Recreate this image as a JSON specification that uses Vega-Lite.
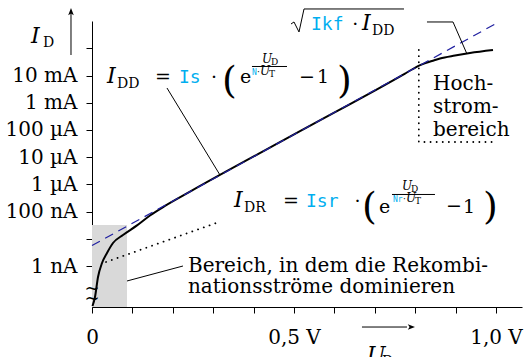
{
  "$schema": "https://vega.github.io/schema/vega-lite/v6.json",
  "width": 430,
  "height": 286,
  "autosize": {"type": "none"},
  "padding": {"left": 92, "top": 21, "right": 5, "bottom": 50},
  "background": "white",
  "config": {"view": {"stroke": null}, "font": "DejaVu Serif"},
  "datasets": {
    "region": [{"U": 0, "U2": 0.0866, "I": 3.11e-11, "I2": 3.21e-8}],
    "curve": [
      {"U": 0.0012, "I": 3.38e-11},
      {"U": 0.0074, "I": 7.24e-11},
      {"U": 0.0149, "I": 3.94e-10},
      {"U": 0.0248, "I": 1.29e-9},
      {"U": 0.0371, "I": 3.01e-9},
      {"U": 0.0520, "I": 7.02e-9},
      {"U": 0.0767, "I": 1.38e-8},
      {"U": 0.1114, "I": 3.1e-8},
      {"U": 0.1436, "I": 7.2e-8},
      {"U": 0.1807, "I": 1.62e-7},
      {"U": 0.2426, "I": 5.41e-7},
      {"U": 0.5149, "I": 9.02e-5},
      {"U": 0.7748, "I": 1.19e-2},
      {"U": 0.7921, "I": 1.675e-2},
      {"U": 0.8069, "I": 2.22e-2},
      {"U": 0.8218, "I": 2.76e-2},
      {"U": 0.8416, "I": 3.44e-2},
      {"U": 0.8614, "I": 4.26e-2},
      {"U": 0.8985, "I": 5.48e-2},
      {"U": 0.9356, "I": 6.78e-2},
      {"U": 0.9926, "I": 8.73e-2}
    ],
    "idd": [{"U": 0, "I": 5.67e-9}, {"U": 1.0025, "I": 0.859}],
    "dots": [
      {"g": "r", "k": 1, "U": 0.0347, "I": 1.40e-9},
      {"g": "r", "k": 2, "U": 0.3144, "I": 4.15e-8},
      {"g": "h", "k": 1, "U": 0.809, "I": 0.0873},
      {"g": "h", "k": 2, "U": 0.809, "I": 3.62e-5},
      {"g": "h", "k": 3, "U": 0.990, "I": 3.62e-5}
    ],
    "strokes": [
      {"g": "a", "k": 1, "U": 0.1856, "I": 3.50e-3},
      {"g": "a", "k": 2, "U": 0.3168, "I": 2.22e-6},
      {"g": "b", "k": 1, "U": 0.8292, "I": 0.935},
      {"g": "b", "k": 2, "U": 0.8936, "I": 0.935},
      {"g": "b", "k": 3, "U": 0.9282, "I": 6.22e-2},
      {"g": "c", "k": 1, "U": 0.0866, "I": 2.81e-10},
      {"g": "c", "k": 2, "U": 0.2252, "I": 1e-9},
      {"g": "d", "k": 1, "U": 0.4926, "I": 0.789},
      {"g": "d", "k": 2, "U": 0.5, "I": 0.935},
      {"g": "d", "k": 3, "U": 0.5124, "I": 0.401},
      {"g": "d", "k": 4, "U": 0.5248, "I": 2.81},
      {"g": "d", "k": 5, "U": 0.7723, "I": 2.81},
      {"g": "e", "k": 1, "U": 0.3960, "I": 2.16e-2},
      {"g": "e", "k": 2, "U": 0.4827, "I": 2.16e-2},
      {"g": "f", "k": 1, "U": 0.7426, "I": 4.26e-7},
      {"g": "f", "k": 2, "U": 0.8490, "I": 4.26e-7},
      {"g": "y", "k": 1, "U": -0.052, "I": 5.71e-2},
      {"g": "y", "k": 2, "U": -0.052, "I": 2.0},
      {"g": "x", "k": 1, "U": 0.6683, "I": 5.71e-12},
      {"g": "x", "k": 2, "U": 0.7797, "I": 5.71e-12}
    ],
    "arrowUp": [{"U": -0.052, "I": 2.18}],
    "arrowRight": [{"U": 0.7896, "I": 5.71e-12}],
    "brk": [{"t": "~", "U": 0, "I": 1.43e-10}, {"t": "~", "U": 0, "I": 6.12e-11}],
    "tOps": [
      {"t": "=", "U": 0.1559, "I": 5.35e-3},
      {"t": "·", "U": 0.2946, "I": 5.35e-3},
      {"t": "e", "U": 0.3663, "I": 5.35e-3},
      {"t": "−", "U": 0.5124, "I": 5.35e-3},
      {"t": "1", "U": 0.5569, "I": 5.35e-3},
      {"t": "·", "U": 0.6445, "I": 0.474},
      {"t": "=", "U": 0.4728, "I": 1.476e-7},
      {"t": "·", "U": 0.6497, "I": 1.476e-7},
      {"t": "e", "U": 0.7104, "I": 8.89e-8},
      {"t": "−", "U": 0.8762, "I": 9.66e-8},
      {"t": "1", "U": 0.9183, "I": 8.89e-8}
    ],
    "tText": [
      {"t": "Bereich, in dem die Rekombi-", "U": 0.2376, "I": 6.01e-10},
      {"t": "nationsströme dominieren", "U": 0.2376, "I": 1.016e-10},
      {"t": "Hoch-", "U": 0.8441, "I": 2.96e-3},
      {"t": "strom-", "U": 0.8441, "I": 4.22e-4},
      {"t": "bereich", "U": 0.8441, "I": 6.01e-5}
    ],
    "tItalic": [
      {"t": "I", "U": 0.0371, "I": 5.35e-3},
      {"t": "I", "U": 0.6683, "I": 0.474},
      {"t": "I", "U": 0.3515, "I": 1.476e-7},
      {"t": "I", "U": -0.1510, "I": 0.158},
      {"t": "U", "U": 0.6807, "I": 2.96e-13}
    ],
    "tSub": [
      {"t": "DD", "U": 0.0619, "I": 3.50e-3},
      {"t": "DD", "U": 0.6931, "I": 0.311},
      {"t": "DR", "U": 0.3762, "I": 9.66e-8},
      {"t": "D", "U": -0.1213, "I": 0.1124},
      {"t": "D", "U": 0.7178, "I": 2.11e-13}
    ],
    "tFracI": [
      {"t": "U", "U": 0.4208, "I": 2.90e-2},
      {"t": "U", "U": 0.4158, "I": 1.05e-2},
      {"t": "U", "U": 0.7673, "I": 6.22e-7},
      {"t": "U", "U": 0.7772, "I": 2.25e-7}
    ],
    "tFracR": [
      {"t": "D", "U": 0.4431, "I": 2.45e-2},
      {"t": "·", "U": 0.4084, "I": 1.05e-2},
      {"t": "T", "U": 0.4381, "I": 8.90e-3},
      {"t": "D", "U": 0.7896, "I": 5.26e-7},
      {"t": "·", "U": 0.7698, "I": 2.25e-7},
      {"t": "T", "U": 0.7995, "I": 1.90e-7}
    ],
    "tParen": [
      {"t": "(", "U": 0.3218, "I": 2.29e-3},
      {"t": ")", "U": 0.6064, "I": 2.29e-3},
      {"t": "(", "U": 0.6683, "I": 5.35e-8},
      {"t": ")", "U": 0.9678, "I": 5.35e-8}
    ],
    "tMono": [
      {"t": "Is", "U": 0.2153, "I": 5.35e-3},
      {"t": "Ikf", "U": 0.5421, "I": 0.474},
      {"t": "Isr", "U": 0.5297, "I": 1.476e-7}
    ],
    "tMonoSmall": [
      {"t": "N", "U": 0.3960, "I": 1.05e-2},
      {"t": "Nr", "U": 0.7450, "I": 2.25e-7}
    ]
  },
  "encoding": {
    "x": {
      "field": "U", "type": "quantitative",
      "scale": {"domain": [0, 1.0644], "nice": false, "zero": false},
      "axis": {
        "title": null, "grid": false,
        "values": [0, 0.1, 0.2, 0.3, 0.4, 0.5, 0.6, 0.7, 0.8, 0.9, 1.0],
        "labelExpr": "datum.value == 0 ? '0' : abs(datum.value - 0.5) < 0.01 ? '0,5 V' : abs(datum.value - 1) < 0.01 ? '1,0 V' : ''",
        "tickSize": 6, "tickColor": "black", "tickWidth": 1,
        "domainColor": "black", "domainWidth": 1,
        "labelColor": "black", "labelFont": "DejaVu Serif", "labelFontSize": 20,
        "labelPadding": 14, "labelOverlap": false, "labelFlush": false
      }
    },
    "y": {
      "field": "I", "type": "quantitative",
      "scale": {"type": "log", "domain": [3.11e-11, 1.016], "nice": false},
      "axis": {
        "title": null, "grid": false,
        "values": [1e-9, 1e-8, 1e-7, 1e-6, 1e-5, 1e-4, 1e-3, 1e-2, 1e-1],
        "labelExpr": "['1 nA', '', '100 nA', '1 µA', '10 µA', '100 µA', '1 mA', '10 mA', ''][round(log(datum.value) / LN10) + 9]",
        "tickSize": 6, "tickColor": "black", "tickWidth": 1,
        "domainColor": "black", "domainWidth": 1,
        "labelColor": "black", "labelFont": "DejaVu Serif", "labelFontSize": 20,
        "labelPadding": 9, "labelOverlap": false, "labelFlush": false
      }
    }
  },
  "layer": [
    {
      "data": {"name": "region"},
      "mark": {"type": "rect", "color": "#d9d9d9"},
      "encoding": {"x2": {"field": "U2"}, "y2": {"field": "I2"}}
    },
    {
      "data": {"name": "curve"},
      "mark": {"type": "line", "color": "black", "strokeWidth": 2, "interpolate": "monotone"},
      "encoding": {}
    },
    {
      "data": {"name": "idd"},
      "mark": {"type": "line", "color": "#1f1fa0", "strokeWidth": 1.2, "strokeDash": [9, 6]},
      "encoding": {}
    },
    {
      "data": {"name": "dots"},
      "mark": {"type": "line", "color": "black", "strokeWidth": 1.8, "strokeDash": [0.1, 6], "strokeCap": "round"},
      "encoding": {"detail": {"field": "g"}, "order": {"field": "k"}}
    },
    {
      "data": {"name": "strokes"},
      "mark": {"type": "line", "color": "black", "strokeWidth": 1},
      "encoding": {"detail": {"field": "g"}, "order": {"field": "k"}}
    },
    {
      "data": {"name": "arrowUp"},
      "mark": {"type": "point", "shape": "M0,-1L0.7,0.8L0,0.35L-0.7,0.8Z", "size": 64, "filled": true, "color": "black", "opacity": 1}
    },
    {
      "data": {"name": "arrowRight"},
      "mark": {"type": "point", "shape": "M1,0L-0.8,0.7L-0.35,0L-0.8,-0.7Z", "size": 64, "filled": true, "color": "black", "opacity": 1}
    },
    {
      "data": {"name": "brk"},
      "mark": {"type": "text", "align": "center", "baseline": "middle", "font": "DejaVu Serif", "fontSize": 18, "color": "black"},
      "encoding": {"text": {"field": "t"}}
    },
    {
      "data": {"name": "tOps"},
      "mark": {"type": "text", "align": "left", "baseline": "alphabetic", "font": "DejaVu Serif", "fontSize": 19, "color": "black"},
      "encoding": {"text": {"field": "t"}}
    },
    {
      "data": {"name": "tText"},
      "mark": {"type": "text", "align": "left", "baseline": "alphabetic", "font": "DejaVu Serif", "fontSize": 20, "color": "black"},
      "encoding": {"text": {"field": "t"}}
    },
    {
      "data": {"name": "tItalic"},
      "mark": {"type": "text", "align": "left", "baseline": "alphabetic", "font": "DejaVu Serif", "fontStyle": "italic", "fontSize": 22, "color": "black"},
      "encoding": {"text": {"field": "t"}}
    },
    {
      "data": {"name": "tSub"},
      "mark": {"type": "text", "align": "left", "baseline": "alphabetic", "font": "DejaVu Serif", "fontSize": 14, "color": "black"},
      "encoding": {"text": {"field": "t"}}
    },
    {
      "data": {"name": "tFracI"},
      "mark": {"type": "text", "align": "left", "baseline": "alphabetic", "font": "DejaVu Serif", "fontStyle": "italic", "fontSize": 12, "color": "black"},
      "encoding": {"text": {"field": "t"}}
    },
    {
      "data": {"name": "tFracR"},
      "mark": {"type": "text", "align": "left", "baseline": "alphabetic", "font": "DejaVu Serif", "fontSize": 9, "color": "black"},
      "encoding": {"text": {"field": "t"}}
    },
    {
      "data": {"name": "tParen"},
      "mark": {"type": "text", "align": "left", "baseline": "alphabetic", "font": "DejaVu Serif", "fontSize": 38, "color": "black"},
      "encoding": {"text": {"field": "t"}}
    },
    {
      "data": {"name": "tMono"},
      "mark": {"type": "text", "align": "left", "baseline": "alphabetic", "font": "DejaVu Sans Mono", "fontSize": 18, "color": "#00aeef"},
      "encoding": {"text": {"field": "t"}}
    },
    {
      "data": {"name": "tMonoSmall"},
      "mark": {"type": "text", "align": "left", "baseline": "alphabetic", "font": "DejaVu Sans Mono", "fontSize": 8, "color": "#00aeef"},
      "encoding": {"text": {"field": "t"}}
    }
  ]
}
